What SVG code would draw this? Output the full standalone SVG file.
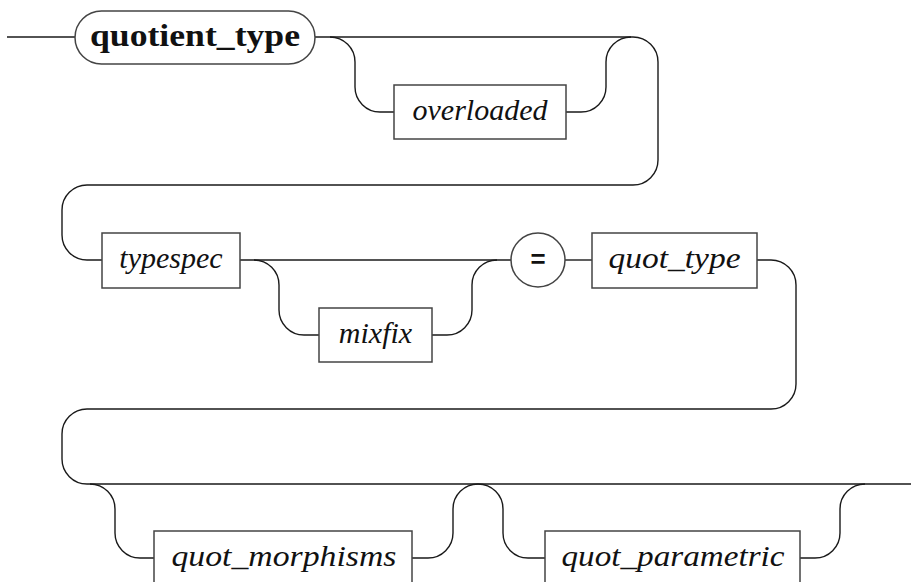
<svg xmlns="http://www.w3.org/2000/svg" width="911" height="582" viewBox="0 0 911 582">
<style>
.c{fill:none;stroke:#1a1a1a;stroke-width:1.4}
.b{fill:#fff;stroke:#444;stroke-width:1.5}
.t{font-family:"Liberation Serif",serif;font-style:italic;font-size:30px;fill:#111;text-anchor:middle}
.k{font-family:"Liberation Serif",serif;font-weight:bold;font-size:31px;fill:#111;text-anchor:middle}
.e{font-family:"Liberation Mono",monospace;font-weight:bold;font-size:26px;fill:#111;text-anchor:middle}
</style>
<rect width="911" height="582" fill="#fff"/>
<g id="connectors">
<path class="c" d="M7,37 H75"/>
<path class="c" d="M315,37 H633"/>
<path class="c" d="M330,37 A25,25 0 0 1 355,62 V87 A25,25 0 0 0 380,112 H394"/>
<path class="c" d="M566,112 H581 A25,25 0 0 0 606,87 V62 A25,25 0 0 1 631,37"/>
<path class="c" d="M633,37 A25,25 0 0 1 658,62 V160 A25,25 0 0 1 633,185 H87 A25,25 0 0 0 62,210 V235 A25,25 0 0 0 87,260 H102"/>
<path class="c" d="M240,260 H511"/>
<path class="c" d="M565,260 H592"/>
<path class="c" d="M254,260 A25,25 0 0 1 279,285 V310 A25,25 0 0 0 304,335 H319"/>
<path class="c" d="M432,335 H447 A25,25 0 0 0 472,310 V285 A25,25 0 0 1 497,260"/>
<path class="c" d="M757,260 H771 A25,25 0 0 1 796,285 V384 A25,25 0 0 1 771,409 H87 A25,25 0 0 0 62,434 V459 A25,25 0 0 0 87,484 H911"/>
<path class="c" d="M90,484 A25,25 0 0 1 115,509 V533 A25,25 0 0 0 140,558 H154"/>
<path class="c" d="M412,558 H428 A25,25 0 0 0 453,533 V509 A25,25 0 0 1 478,484 A25,25 0 0 1 503,509 V533 A25,25 0 0 0 528,558 H545"/>
<path class="c" d="M800,558 H815 A25,25 0 0 0 840,533 V509 A25,25 0 0 1 865,484"/>
</g>
<g id="quotient_type">
<rect class="b" x="75" y="11" width="240" height="53" rx="26.5" ry="26.5"/>
<text class="k" x="195" y="46" textLength="210" lengthAdjust="spacingAndGlyphs">quotient_type</text>
</g>
<g id="overloaded">
<rect class="b" x="394" y="85" width="172" height="54"/>
<text class="t" x="480" y="120">overloaded</text>
</g>
<g id="typespec">
<rect class="b" x="102" y="233" width="138" height="55"/>
<text class="t" x="171" y="268">typespec</text>
</g>
<g id="mixfix">
<rect class="b" x="319" y="308" width="113" height="54"/>
<text class="t" x="375.5" y="343">mixfix</text>
</g>
<g id="equals">
<circle class="b" cx="538" cy="260" r="27"/>
<text class="e" x="538" y="268">=</text>
</g>
<g id="quot_type">
<rect class="b" x="592" y="233" width="165" height="55"/>
<text class="t" x="674.5" y="268" textLength="132" lengthAdjust="spacingAndGlyphs">quot_type</text>
</g>
<g id="quot_morphisms">
<rect class="b" x="154" y="531" width="258" height="56"/>
<text class="t" x="284" y="566" textLength="225" lengthAdjust="spacingAndGlyphs">quot_morphisms</text>
</g>
<g id="quot_parametric">
<rect class="b" x="545" y="531" width="255" height="56"/>
<text class="t" x="673" y="566" textLength="223" lengthAdjust="spacingAndGlyphs">quot_parametric</text>
</g>
</svg>
